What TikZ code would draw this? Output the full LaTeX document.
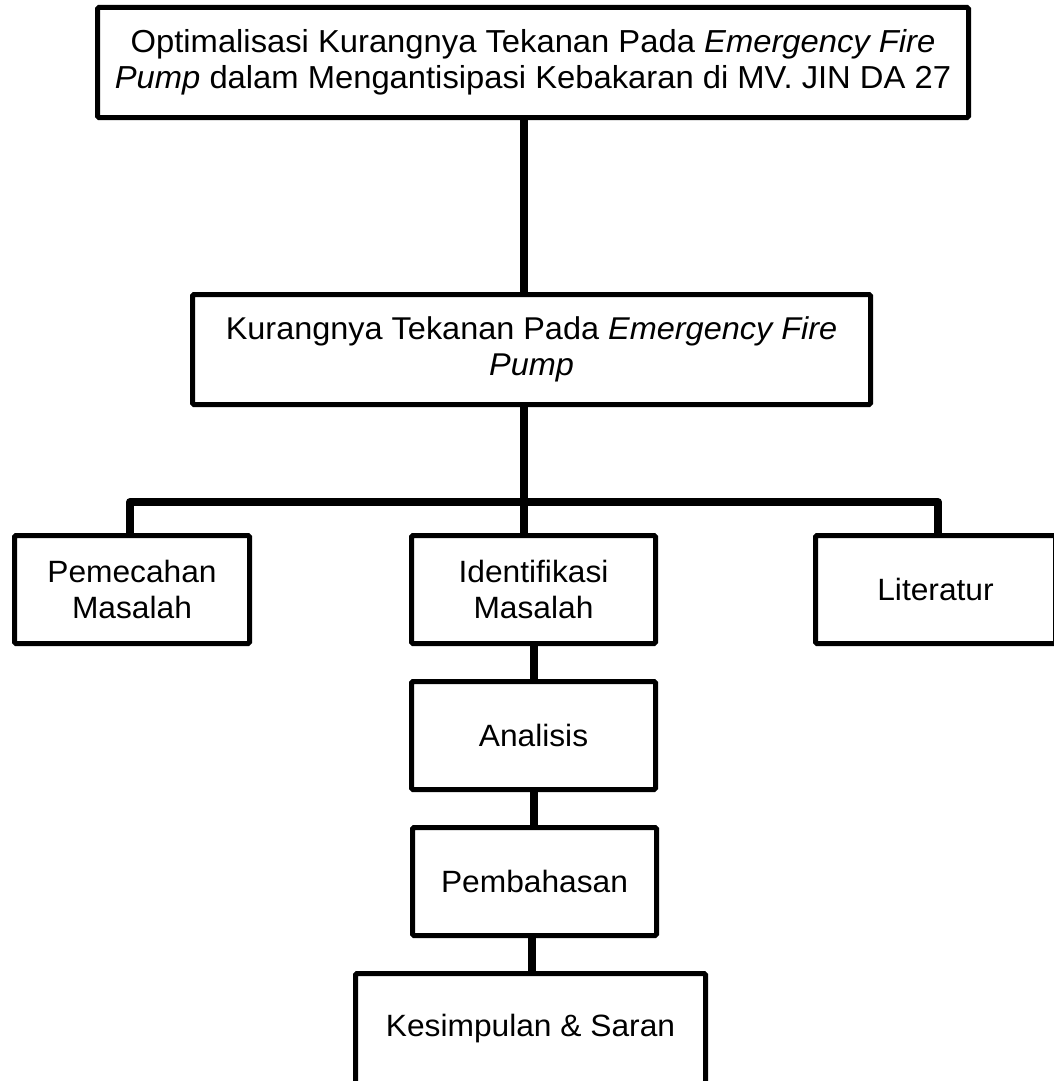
\documentclass[tikz,border=0pt]{standalone}
\usepackage{fontspec}
\setmainfont[FakeStretch=1.03]{Liberation Sans}
\begin{document}
\begin{tikzpicture}[x=1pt,y=-1pt,
  box/.style={draw=black, line width=5pt, rounded corners=1.5pt, fill=white,
    align=center, inner sep=0pt, font=\fontsize{30.8}{36}\selectfont},
  conn/.style={draw=black, line width=8pt}]
\useasboundingbox (0,0) rectangle (1054,1081);
\clip (0,0) rectangle (1054,1081);
\node[box, minimum width=871pt, minimum height=110pt, font=\fontsize{31.8}{36}\selectfont] (top) at (533,62.5)
  {Optimalisasi Kurangnya Tekanan Pada \textit{Emergency Fire}\\\textit{Pump} dalam Mengantisipasi Kebakaran di MV. JIN DA 27};
\node[box, minimum width=678pt, minimum height=110pt, font=\fontsize{31.5}{36}\selectfont] (main) at (531.5,349.5)
  {Kurangnya Tekanan Pada \textit{Emergency Fire}\\\textit{Pump}};
\node[box, minimum width=235pt, minimum height=108pt] (pem) at (132,589.5)
  {Pemecahan\\Masalah};
\node[box, minimum width=244pt, minimum height=108pt] (idf) at (533.5,589.5)
  {Identifikasi\\Masalah};
\node[box, minimum width=240pt, minimum height=108pt] (lit) at (935.5,589.5)
  {Literatur};
\node[box, minimum width=244pt, minimum height=108pt] (ana) at (533.5,735.5)
  {Analisis};
\node[box, minimum width=244pt, minimum height=108pt] (pmb) at (534.5,881.5)
  {Pembahasan};
\node[box, minimum width=350pt, minimum height=110pt] (kes) at (530.5,1028.5)
  {Kesimpulan \& Saran};
\coordinate (bar) at (524,502);
\draw[conn] ([xshift=-9pt]top.south) -- ([xshift=-9pt]top.south |- main.north);
\draw[conn] (main.south -| bar) -- (bar) -- (idf.north -| bar);
\draw[conn, line join=round] ([xshift=-2pt]pem.north) |- (bar) -| ([xshift=2.5pt]lit.north);
\draw[conn] (idf.south) -- (ana.north);
\draw[conn] (ana.south) -- (ana.south |- pmb.north);
\draw[conn] ([xshift=-2.5pt]pmb.south) -- ([xshift=-2.5pt]pmb.south |- kes.north);
\end{tikzpicture}
\end{document}
